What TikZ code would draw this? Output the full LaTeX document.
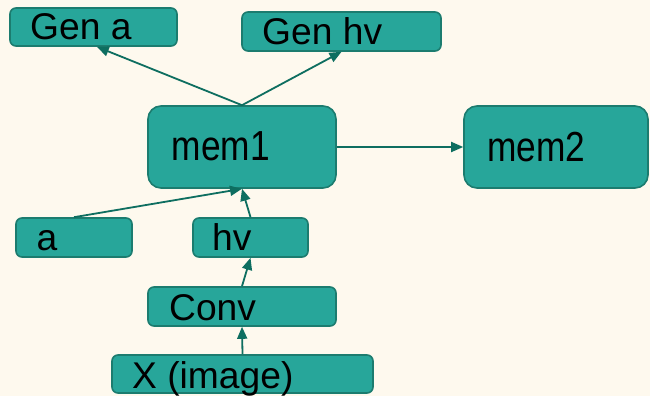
\documentclass[tikz,border=0pt]{standalone}
\usepackage{fontspec}
\setmainfont{Liberation Sans}
\usetikzlibrary{arrows.meta,calc}

\definecolor{bgcream}{HTML}{FEF9EE}
\definecolor{boxfill}{HTML}{27A69A}
\definecolor{boxline}{HTML}{1C7C6F}
\definecolor{arrowc}{HTML}{0E6E60}

\tikzset{
  box/.style={draw=boxline, fill=boxfill, line width=1.6pt, inner sep=0pt},
  smallbox/.style={box, rounded corners=6pt},
  bigbox/.style={box, rounded corners=13pt},
  lbl/.style={inner sep=0pt, anchor=base west, font=\fontsize{37.2}{40}\selectfont},
  biglbl/.style={inner sep=0pt, anchor=base west, font=\fontsize{42}{46}\selectfont},
  link/.style={draw=arrowc, line width=1.8pt, -{Triangle[length=12pt,width=10pt]}},
}

\begin{document}
\begin{tikzpicture}[x=1pt, y=-1pt]
  % canvas
  \fill[bgcream] (0,0) rectangle (650,396);
  \useasboundingbox (0,0) rectangle (650,396);

  % boxes
  \node[smallbox, minimum width=167pt, minimum height=38pt] (gena)  at (93.5,27)   {};
  \node[smallbox, minimum width=199pt, minimum height=39pt] (genhv) at (341.5,31.5) {};
  \node[bigbox,   minimum width=188pt, minimum height=82pt] (mem1)  at (242,147)   {};
  \node[bigbox,   minimum width=184pt, minimum height=82pt] (mem2)  at (556,147)   {};
  \node[smallbox, minimum width=116pt, minimum height=39pt] (a)     at (74,237.5)  {};
  \node[smallbox, minimum width=115pt, minimum height=39pt] (hv)    at (250.5,237.5) {};
  \node[smallbox, minimum width=188pt, minimum height=39pt] (conv)  at (242,306.5) {};
  \node[smallbox, minimum width=261pt, minimum height=38pt] (ximg)  at (242.5,374) {};

  % labels
  \node[lbl] (gena-t)  at (30,40)  {Gen a};
  \node[lbl] (genhv-t) at (262,45) {Gen hv};
  \node[biglbl] (mem1-t) at (171.5,160) {\scalebox{0.84}[1]{mem1}};
  \node[biglbl] (mem2-t) at (487,161) {\scalebox{0.84}[1]{mem2}};
  \node[lbl] (a-t)     at (36.5,250)  {a};
  \node[lbl] (hv-t)    at (212,250) {hv};
  \node[lbl] (conv-t)  at (169,320) {Conv};
  \node[lbl] (ximg-t)  at (132,388) {X (image)};

  % connectors
  \draw[link] (mem1.north) -- ($(gena.south west)!0.52!(gena.south east)$);
  \draw[link] (mem1.north) -- (genhv.south);
  \draw[link] (mem1.east) -- (mem2.west);
  \draw[link] (a.north) -- (mem1.south);
  \draw[link] (hv.north) -- (mem1.south);
  \draw[link] (conv.north) -- (hv.south);
  \draw[link] (ximg.north) -- (conv.south);
\end{tikzpicture}
\end{document}
